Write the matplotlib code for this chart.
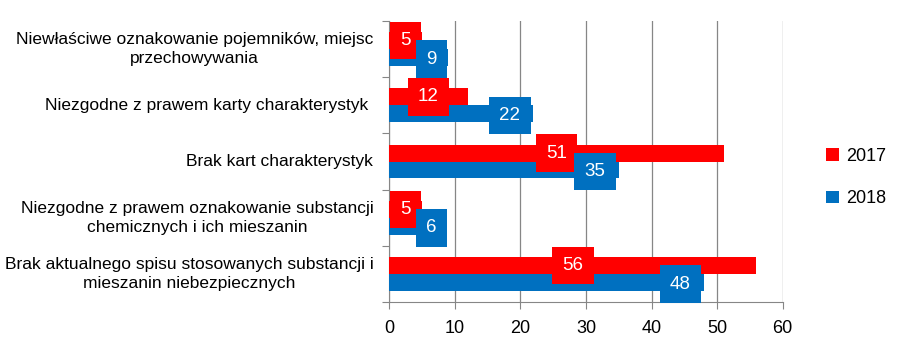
import numpy as np
import matplotlib
matplotlib.use("Agg")
import matplotlib.pyplot as plt

categories = [
    "Niewłaściwe oznakowanie pojemników, miejsc\nprzechowywania",
    "Niezgodne z prawem karty charakterystyk ",
    "Brak kart charakterystyk",
    "Niezgodne z prawem oznakowanie substancji\nchemicznych i ich mieszanin",
    "Brak aktualnego spisu stosowanych substancji i\nmieszanin niebezpiecznych",
]
vals_2017 = np.array([5, 12, 51, 5, 56])
vals_2018 = np.array([9, 22, 35, 6, 48])
years = ["2017", "2018"]

RED = "#FF0000"
BLUE = "#0070C0"
plt.rcParams['font.family'] = ['Liberation Sans', 'DejaVu Sans']

fig = plt.figure(figsize=(9.07, 3.55), dpi=100)
ax = fig.add_axes([0.429, 0.149, 0.434, 0.792])

n = len(categories)
y = np.arange(n)[::-1].astype(float)
h = 0.3

ax.barh(y + h / 2, vals_2017, height=h, color=RED, zorder=3, label=years[0])
ax.barh(y - h / 2, vals_2018, height=h, color=BLUE, zorder=3, label=years[1])

# data labels: red centred, blue near the inside end
for yi, v in zip(y, vals_2017):
    ax.text(v / 2, yi + h / 2, str(v), color="white", fontsize=13.5,
            ha="center", va="center", zorder=5,
            bbox=dict(boxstyle="square,pad=0.55", fc=RED, ec="none"))
for yi, v, r in zip(y, vals_2018, vals_2017):
    x = max(v - 3.6, r / 2 + 4.0)
    ax.text(x, yi - h / 2 - 0.03, str(v), color="white", fontsize=13.5,
            ha="center", va="center", zorder=6,
            bbox=dict(boxstyle="square,pad=0.55", fc=BLUE, ec="none"))

ax.set_xlim(0, 60)
ax.set_ylim(-0.5, n - 0.5)
ax.set_xticks(np.arange(0, 61, 10))
ax.tick_params(axis="x", labelsize=13, length=5, color="#868686", pad=8,
               labelcolor="#000000")
ax.xaxis.grid(True, color="#868686", linewidth=0.9, zorder=0)

ax.set_yticks(np.arange(n + 1) - 0.5)
ax.set_yticklabels([])
ax.tick_params(axis="y", length=5, color="#868686")
for yi, lab in zip(y, categories):
    ax.text(-2.4, yi, lab, ha="right", va="center", multialignment="center",
            fontsize=12.5, color="#000000", linespacing=1.35,
            transform=ax.transData)

for s in ["top", "right"]:
    ax.spines[s].set_visible(False)
for s in ["left", "bottom"]:
    ax.spines[s].set_color("#868686")

leg = fig.legend(loc="center left", bbox_to_anchor=(0.893, 0.50), frameon=False,
                 fontsize=13, handlelength=0.7, handleheight=0.7,
                 handletextpad=0.4, labelspacing=1.4)

fig.savefig("out.png", dpi=100)
